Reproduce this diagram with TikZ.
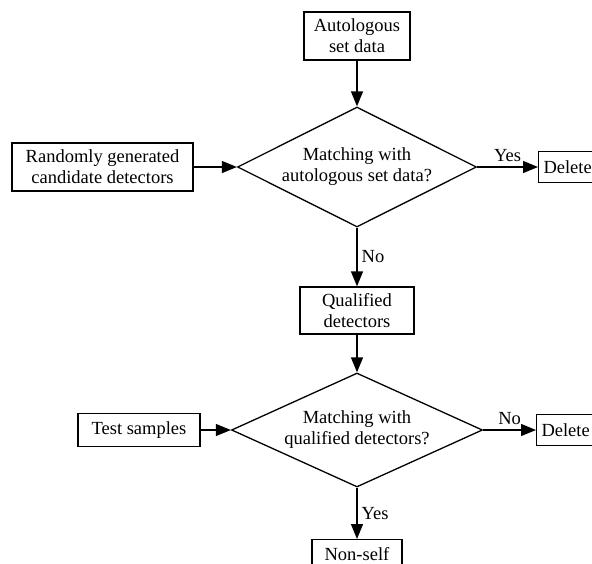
\documentclass[tikz,border=0pt]{standalone}
\usepackage{fontspec}
\setmainfont{Liberation Serif}
\usetikzlibrary{shapes.geometric,arrows.meta}
\begin{document}
\begin{tikzpicture}[x=1pt,y=-1pt,
  every node/.style={font=\fontsize{18.5}{21}\selectfont, align=center, inner sep=0pt},
  box/.style={draw, line width=1.3pt, fill=white},
  decision/.style={draw, diamond, line width=1.3pt, inner sep=0pt},
  flow/.style={line width=1.3pt, -{Triangle[length=15pt,width=12pt]}},
  lbl/.style={font=\fontsize{18.5}{21}\selectfont}]
\useasboundingbox (0,0) rectangle (592,563);

% upper stage: detector generation
\node[box, minimum width=106pt, minimum height=48pt] (auto) at (357,36) {Autologous\\set data};
\node[decision, minimum width=239pt, minimum height=120pt] (match1) at (357,167) {};
\node at (match1) {Matching with\\autologous set data?};
\node[box, minimum width=181pt, minimum height=48pt] (rand) at (102.5,167) {Randomly generated\\candidate detectors};
\node[box, minimum width=64pt, minimum height=31pt, anchor=west] (del1) at (538,167) {\hspace*{-6pt}Delete};
\node[box, minimum width=114pt, minimum height=47pt] (qual) at (357,310.5) {Qualified\\detectors};

% lower stage: detection
\node[decision, minimum width=251pt, minimum height=114pt] (match2) at (357,430) {};
\node at (match2) {Matching with\\qualified detectors?};
\node[box, minimum width=122pt, minimum height=33pt] (test) at (139,430) {Test samples};
\node[box, minimum width=64pt, minimum height=31pt, anchor=west] (del2) at (536,430) {\hspace*{-6pt}Delete};
\node[box, minimum width=90pt, minimum height=29.4pt, anchor=north] (nonself) at (357,539) {Non-self};

% connectors
\draw[flow] (auto.south) -- (match1.north);
\draw[flow] (rand.east) -- (match1.west);
\draw[flow] (match1.east) -- node[lbl, above=5pt] {Yes} (del1.west);
\draw[flow] (match1.south) -- node[lbl, right=4pt] {No} (qual.north);
\draw[flow] (qual.south) -- (match2.north);
\draw[flow] (test.east) -- (match2.west);
\draw[flow] (match2.east) -- node[lbl, above=5pt] {No} (del2.west);
\draw[flow] (match2.south) -- node[lbl, right=4pt] {Yes} (nonself.north);
\end{tikzpicture}
\end{document}
